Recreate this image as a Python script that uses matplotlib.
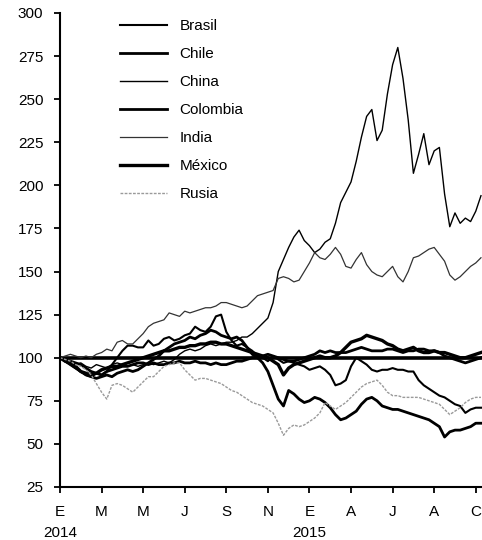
import numpy as np
import matplotlib
matplotlib.use("Agg")
import matplotlib.pyplot as plt

plt.rcParams['font.family'] = ['Liberation Sans', 'DejaVu Sans']

# time axis: months since Jan 2014, weekly-ish samples
months = np.arange(0, 20.5, 0.25)

tick_pos = [0, 2, 4, 6, 8, 10, 12, 14, 16, 18, 20]
tick_labels = ['E\n2014', 'M', 'M', 'J', 'S', 'N', 'E\n2015', 'A', 'J', 'A', 'C']

brasil = [100, 98, 96, 94, 92, 90, 89, 91,
          90, 92, 96, 100, 104, 107, 107, 106,
          106, 110, 107, 108, 111, 112, 110, 111,
          113, 114, 118, 116, 115, 118, 124, 125,
          115, 110, 107, 108, 106, 104, 101, 100,
          98, 101, 99, 97, 98, 97, 96, 95,
          93, 94, 95, 93, 90, 84, 85, 87,
          95, 100, 98, 96, 93, 92, 93, 93,
          94, 93, 93, 92, 92, 87, 84, 82,
          80, 78, 77, 75, 73, 72, 68, 70,
          71, 71]

chile = [100, 99, 98, 97, 96, 94, 92, 91,
         90, 92, 93, 94, 95, 95, 96, 97,
         97, 96, 97, 96, 96, 97, 97, 98,
         97, 97, 98, 97, 97, 96, 97, 96,
         96, 97, 98, 98, 99, 100, 100, 101,
         102, 101, 100, 99, 98, 98, 99, 100,
         101, 102, 104, 103, 104, 103, 103, 103,
         104, 105, 106, 105, 104, 104, 104, 105,
         105, 104, 103, 104, 104, 105, 105, 104,
         104, 103, 101, 100, 99, 98, 97, 98,
         99, 100]

china = [100, 98, 97, 96, 97, 95, 94, 96,
         95, 94, 96, 97, 96, 95, 96, 95,
         96, 97, 96, 97, 98, 97, 99, 102,
         104, 105, 104, 105, 107, 108, 107, 108,
         109, 109, 110, 112, 112, 114, 117, 120,
         123, 132, 150, 157, 164, 170, 174, 168,
         165, 161, 163, 167, 169, 178, 190, 196,
         202, 214, 228, 240, 244, 226, 232, 253,
         270, 280, 262, 238, 207, 218, 230, 212,
         220, 222, 195, 176, 184, 178, 181, 179,
         185, 194]

colombia = [100, 98, 96, 94, 92, 90, 89, 88,
            89, 90, 89, 91, 92, 93, 92, 93,
            95, 97, 99, 101, 104, 106, 108, 109,
            110, 112, 111, 113, 114, 116, 115, 113,
            112, 111, 112, 110, 106, 102, 100, 97,
            92, 84, 76, 72, 81, 79, 76, 74,
            75, 77, 76, 74, 71, 67, 64, 65,
            67, 69, 73, 76, 77, 75, 72, 71,
            70, 70, 69, 68, 67, 66, 65, 64,
            62, 60, 54, 57, 58, 58, 59, 60,
            62, 62]

india = [100, 101, 102, 101, 100, 101, 100, 102,
         103, 105, 104, 109, 110, 108, 108, 111,
         114, 118, 120, 121, 122, 126, 125, 124,
         127, 126, 127, 128, 129, 129, 130, 132,
         132, 131, 130, 129, 130, 133, 136, 137,
         138, 139, 146, 147, 146, 144, 145, 150,
         155, 161, 158, 157, 160, 164, 160, 153,
         152, 157, 161, 154, 150, 148, 147, 150,
         153, 147, 144, 150, 158, 159, 161, 163,
         164, 160, 156, 148, 145, 147, 150, 153,
         155, 158]

mexico = [100, 98, 97, 95, 92, 91, 90, 91,
          93, 94, 95, 95, 96, 97, 98, 99,
          100, 101, 102, 103, 104, 104, 105, 106,
          106, 107, 107, 108, 108, 109, 109, 108,
          108, 107, 106, 105, 104, 103, 102, 101,
          100, 98, 96, 90, 94, 96, 97, 98,
          99, 100, 101, 100, 100, 101, 103, 106,
          109, 110, 111, 113, 112, 111, 110, 108,
          107, 105, 104, 105, 106, 104, 103, 103,
          104, 103, 103, 102, 101, 100, 100, 101,
          102, 103]

rusia = [100, 99, 98, 96, 95, 93, 90, 85,
         80, 76, 84, 85, 84, 82, 80, 83,
         86, 89, 89, 92, 95, 96, 97, 97,
         93, 90, 87, 88, 88, 87, 86, 85,
         83, 81, 80, 78, 76, 74, 73, 72,
         70, 68, 62, 55, 59, 61, 60, 61,
         63, 65, 68, 74, 72, 70, 72, 74,
         77, 80, 83, 85, 86, 87, 84, 80,
         78, 78, 77, 77, 77, 77, 76, 75,
         74, 73, 70, 67, 69, 71, 74, 76,
         77, 77]

series = [
    ("Brasil", brasil, dict(color="black", lw=1.5)),
    ("Chile", chile, dict(color="black", lw=2.0)),
    ("China", china, dict(color="black", lw=1.0)),
    ("Colombia", colombia, dict(color="black", lw=2.0)),
    ("India", india, dict(color="#333333", lw=0.9)),
    ("México", mexico, dict(color="black", lw=2.4)),
    ("Rusia", rusia, dict(color="#9a9a9a", lw=1.0, ls=(0, (2, 1)))),
]

fig = plt.figure(figsize=(4.82, 5.40), dpi=100)
ax = fig.add_axes([60 / 482, 53 / 540, 422 / 482, 474 / 540])

ax.axhline(100, color="black", lw=2.6, zorder=1)
for name, vals, style in series:
    ax.plot(months, vals, label=name, zorder=2, **style)

ax.set_xlim(0, 20.3)
ax.set_ylim(25, 300)
ax.set_yticks(np.arange(25, 301, 25))
ax.set_xticks(tick_pos)
ax.set_xticklabels(tick_labels)
for lbl in ax.get_xticklabels():
    lbl.set_linespacing(1.6)

for side in ("top", "right"):
    ax.spines[side].set_visible(False)
for side in ("left", "bottom"):
    ax.spines[side].set_linewidth(1.5)
ax.tick_params(axis="both", direction="out", length=4, width=1.3, labelsize=11)
ax.tick_params(axis="y", pad=8)
ax.tick_params(axis="x", pad=9)

ax.legend(loc="upper left", bbox_to_anchor=(120 / 482, 1 - 19 / 540),
          bbox_transform=fig.transFigure, frameon=False, fontsize=11,
          handlelength=3.1, handletextpad=0.8, labelspacing=0.92,
          borderpad=0, borderaxespad=0)

fig.savefig("out.png", dpi=100)
